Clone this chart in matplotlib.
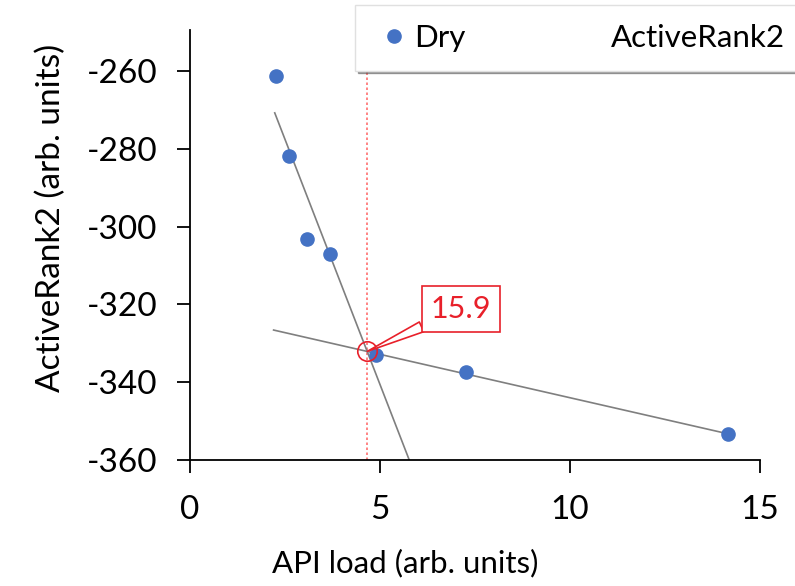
import matplotlib.pyplot as plt
from matplotlib.lines import Line2D
import numpy as np

plt.rcParams['font.family'] = ['Lato', 'DejaVu Sans']
plt.rcParams['axes.unicode_minus'] = False

# measured points
api_load = [2.25, 2.60, 3.08, 3.69, 4.90, 7.26, 14.16]
rank = [-261.2, -282.0, -303.2, -307.0, -333.0, -337.4, -353.3]

# two fitted lines: slope, intercept, x range
steep_fit = (-25.2, -214.6)
steep_range = [2.23, 5.77]
flat_fit = (-2.23, -321.7)
flat_range = [2.20, 14.16]

label_value = "15.9"
blue = "#4472C4"
red = "#E8202A"

fig = plt.figure(figsize=(7.95, 5.86), dpi=100)
ax = fig.add_axes([190/795, 1-460/586, 570/795, 430/586])

xs = np.array(steep_range)
ax.plot(xs, steep_fit[0]*xs + steep_fit[1], color="#7f7f7f", lw=1.2, zorder=2)
xf = np.array(flat_range)
ax.plot(xf, flat_fit[0]*xf + flat_fit[1], color="#7f7f7f", lw=1.2, zorder=2)

ax.plot(api_load, rank, 'o', color=blue, ms=9.5, zorder=3)

# intersection of the two fits
xi = (flat_fit[1]-steep_fit[1])/(steep_fit[0]-flat_fit[0])
yi = steep_fit[0]*xi + steep_fit[1]
ax.axvline(xi, color="#ff7070", ls=(0, (1.5, 1.5)), lw=1.2, zorder=1)
ax.plot([xi], [yi], 'o', mfc='none', mec=red, ms=14, mew=1.2, zorder=4)
ax.annotate(label_value, xy=(xi, yi), xytext=(7.13, -321.2), fontsize=22,
            color=red, ha='center', va='center', zorder=5,
            bbox=dict(boxstyle='square,pad=0.28', fc='white', ec=red, lw=1.2),
            arrowprops=dict(arrowstyle='wedge,tail_width=0.35', fc='white',
                            ec=red, lw=1.2, shrinkA=0, shrinkB=0))

ax.set_xlim(0, 15)
ax.set_ylim(-360, -249.5)
ax.set_xticks([0, 5, 10, 15])
ax.set_yticks(range(-360, -259, 20))
ax.tick_params(direction='out', length=9.5, width=1.3, labelsize=24)
ax.tick_params(axis='x', pad=16)
ax.tick_params(axis='y', pad=14)
for s in ['top', 'right']:
    ax.spines[s].set_visible(False)
for s in ['left', 'bottom']:
    ax.spines[s].set_linewidth(1.3)
ax.set_xlabel("API load (arb. units)", fontsize=22.5)
ax.set_ylabel("ActiveRank2 (arb. units)", fontsize=24)
ax.xaxis.set_label_coords((405-190)/570, (460-549)/430)
ax.yaxis.set_label_coords((66-190)/570, (460-218)/430)

handles = [Line2D([], [], marker='o', ls='', color=blue, ms=9.5),
           Line2D([], [], ls='', marker=None)]
leg = fig.legend(handles, ["Dry", "ActiveRank2"], ncol=2, loc='upper left',
                 bbox_to_anchor=(355/795, 1-5/586, 0.565, 0), mode='expand',
                 borderaxespad=0, fontsize=22.5, shadow=True,
                 fancybox=False, framealpha=1, edgecolor="#e0e0e0",
                 handletextpad=0.0, borderpad=0.6, handlelength=1.3)

fig.savefig("out.png", dpi=100)
